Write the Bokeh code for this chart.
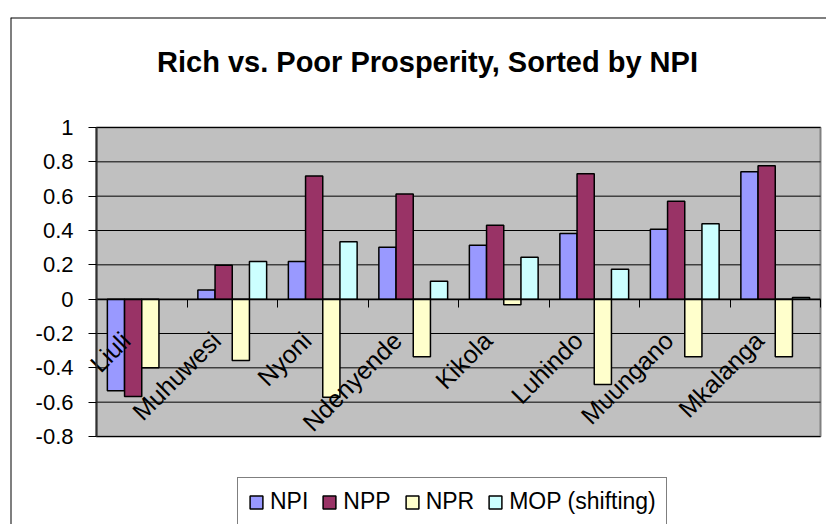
from bokeh.plotting import figure
from bokeh.models import (Range1d, LinearAxis, FixedTicker, NumeralTickFormatter, Legend,
                          LegendItem, Label, Span, ColumnDataSource)
from bokeh.core.properties import value
from bokeh.embed import file_html
from bokeh.resources import INLINE
import math

# ---- data ----
categories = ["Liuli", "Muhuwesi", "Nyoni", "Ndenyende", "Kikola", "Luhindo", "Muungano", "Mkalanga"]
npi = [-0.533, 0.054, 0.219, 0.302, 0.314, 0.382, 0.407, 0.742]
npp = [-0.567, 0.198, 0.717, 0.613, 0.430, 0.731, 0.570, 0.777]
npr = [-0.400, -0.357, -0.572, -0.336, -0.033, -0.497, -0.336, -0.336]
mop = [float("nan"), 0.219, 0.335, 0.105, 0.244, 0.174, 0.440, 0.010]
series_names = ["NPI", "NPP", "NPR", "MOP (shifting)"]
series_colors = ["#9999FF", "#993366", "#FFFFCC", "#CCFFFF"]
y_ticks = [-0.8, -0.6, -0.4, -0.2, 0.0, 0.2, 0.4, 0.6, 0.8, 1.0]
title_text = "Rich vs. Poor Prosperity, Sorted by NPI"

FONT = "Liberation Sans"
W, H = 826, 524
n = len(categories)
y_lo, y_hi = y_ticks[0], y_ticks[-1]

# the frame is the whole chart box (starting at 10,17); the plot area sits inside it
# (plot area in px: x 96..820, y 127..436)
ux = (820 - 96) / n
uy = (436 - 127) / (y_hi - y_lo)
x_range = Range1d(-(96 - 10) / ux, n + (W - 820) / ux)
y_range = Range1d(y_lo - (H - 436) / uy, y_hi + (127 - 17) / uy)

p = figure(width=W, height=H, x_range=x_range, y_range=y_range,
           x_axis_location=None, y_axis_location=None, toolbar_location=None,
           output_backend="svg", min_border_left=10, min_border_top=17,
           min_border_right=0, min_border_bottom=0)
p.outline_line_color = None
p.background_fill_color = "white"
p.border_fill_color = "white"
p.grid.visible = False

# plot area background and gridlines
p.quad(left=[0], right=[n], bottom=[y_lo], top=[y_hi], fill_color="#C0C0C0",
       line_color="#808080", line_width=2)
p.segment(x0=[0] * len(y_ticks), x1=[n] * len(y_ticks), y0=y_ticks, y1=y_ticks,
          line_color="black", line_width=1)

# bars
bw = 0.19
offsets = [-1.5 * bw, -0.5 * bw, 0.5 * bw, 1.5 * bw]
centers = [i + 0.5 for i in range(n)]
renderers = []
for vals, off, col in zip([npi, npp, npr, mop], offsets, series_colors):
    src = ColumnDataSource(dict(x=[c + off for c in centers], top=vals))
    r = p.vbar(x="x", top="top", bottom=0, width=bw, source=src,
               fill_color=col, line_color="black", line_width=1.5)
    renderers.append(r)

# y axis on the plot-area edge
yax = LinearAxis(fixed_location=0, bounds=(y_lo, y_hi), ticker=FixedTicker(ticks=y_ticks),
                 formatter=NumeralTickFormatter(format="0.[0]"),
                 major_label_text_font=FONT, major_label_text_font_size="22px",
                 major_label_text_color="black", major_tick_in=0, major_tick_out=8,
                 minor_tick_line_color=None, major_tick_line_color="black",
                 axis_line_color="#303030", axis_line_width=2, major_label_standoff=15)
p.add_layout(yax, "left")

# category axis at y = 0 with boundary ticks
xax = LinearAxis(fixed_location=0, bounds=(0, n), ticker=FixedTicker(ticks=list(range(n + 1))),
                 major_tick_in=0, major_tick_out=8, minor_tick_line_color=None,
                 major_label_text_color=None, axis_line_color="black", axis_line_width=1.5,
                 major_tick_line_color="black")
p.add_layout(xax, "below")

# rotated category labels
lab_src = ColumnDataSource(dict(x=centers, y=[0] * n, t=categories))
p.text(x="x", y="y", text="t", source=lab_src, angle=math.pi / 4, text_align="right",
       text_baseline="middle", x_offset=-16, y_offset=37, text_font=value(FONT),
       text_font_size="25px", text_color="black")

# legend
legend = Legend(items=[LegendItem(label=s, renderers=[r]) for s, r in zip(series_names, renderers)],
                orientation="horizontal", location=(227, -2), padding=10, spacing=13,
                label_standoff=6, glyph_width=16, glyph_height=16,
                label_text_font=FONT, label_text_font_size="23px", label_text_color="black",
                border_line_color="black", border_line_width=1,
                background_fill_color="white", background_fill_alpha=1, margin=0)
p.add_layout(legend, "center")

# title
p.add_layout(Label(x=427, y=61, x_units="canvas", y_units="canvas", text=title_text,
                   text_align="center", text_baseline="alphabetic", text_font=FONT,
                   text_font_size="29px", text_font_style="bold", text_color="black"))

# outer chart border (top and left edges of the chart box)
p.add_layout(Span(location=y_range.end, dimension="width", line_color="black", line_width=2))
p.add_layout(Span(location=x_range.start, dimension="height", line_color="black", line_width=2))

open("out.html", "w").write(file_html(p, INLINE))
